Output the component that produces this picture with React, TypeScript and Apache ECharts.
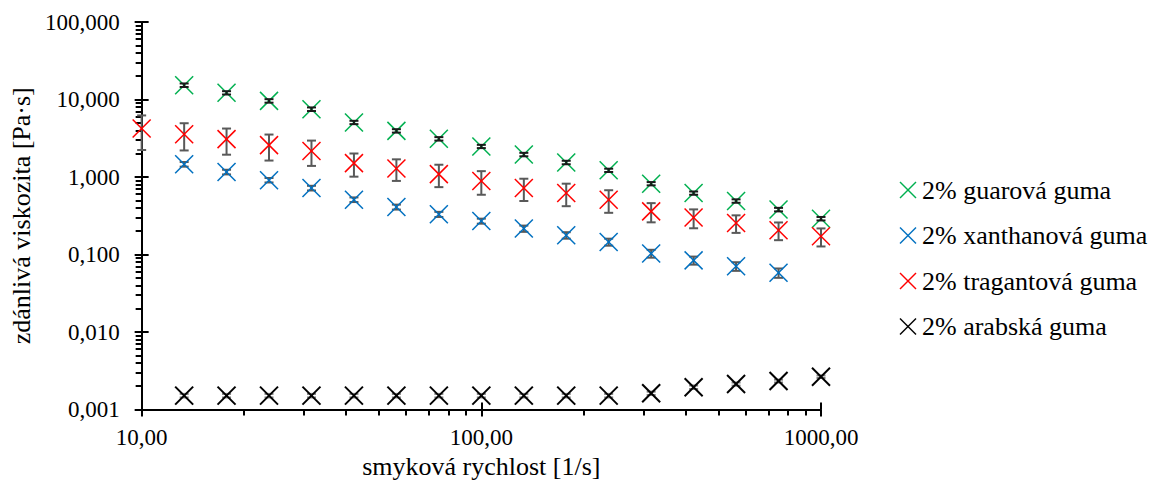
import React, { useEffect, useRef } from "react";
import * as echarts from "echarts";

// shear rates [1/s]
const shearRates = [10, 13.34, 17.78, 23.71, 31.62, 42.17, 56.23, 74.99, 100, 133.4, 177.8, 237.1, 316.2, 421.7, 562.3, 749.9, 1000];

// 2% guar gum (starts at 13.34)
const guarValues = [15.3, 12.2, 9.6, 7.5, 5.06, 3.94, 3.11, 2.48, 1.95, 1.54, 1.22, 0.82, 0.62, 0.49, 0.38, 0.29];
const guarErrors = [0.8, 0.6, 0.5, 0.4, 0.25, 0.2, 0.16, 0.12, 0.1, 0.08, 0.06, 0.04, 0.03, 0.025, 0.02, 0.015];

// 2% xanthan gum (starts at 13.34)
const xanthanValues = [1.46, 1.16, 0.91, 0.72, 0.51, 0.41, 0.33, 0.27, 0.216, 0.177, 0.145, 0.103, 0.084, 0.0705, 0.058];
const xanthanErrors = [0.1, 0.08, 0.06, 0.05, 0.035, 0.03, 0.025, 0.02, 0.02, 0.017, 0.015, 0.012, 0.01, 0.009, 0.008];

// 2% tragacanth gum (starts at 10)
const tragantValues = [4.23, 3.57, 3.08, 2.58, 2.17, 1.51, 1.29, 1.09, 0.89, 0.72, 0.62, 0.51, 0.36, 0.3, 0.255, 0.206, 0.172];
const tragantErrors = [2.0, 1.37, 1.14, 0.95, 0.78, 0.5, 0.4, 0.35, 0.3, 0.23, 0.2, 0.165, 0.1, 0.082, 0.065, 0.053, 0.045];

// 2% arabic gum (starts at 13.34)
const arabicValues = [0.00151, 0.00151, 0.00151, 0.00151, 0.00151, 0.00151, 0.00151, 0.00151, 0.00151, 0.00151, 0.00151, 0.00162, 0.00194, 0.00213, 0.00233, 0.00265];
const arabicErrors = [0.00008, 0.00008, 0.00008, 0.00008, 0.00008, 0.00008, 0.00008, 0.00008, 0.00008, 0.00008, 0.00008, 0.00008, 0.0001, 0.0001, 0.0001, 0.0001];

const seriesNames = ["2% guarová guma", "2% xanthanová guma", "2% tragantová guma", "2% arabská guma"];
const seriesColors = ["#00B050", "#0070C0", "#FF0000", "#000000"];
const errorColors = ["#1a1a1a", "#595959", "#595959", "#7f7f7f"];

// axis ranges
const xMin = 10;
const xMax = 1000;
const yMin = 0.001;
const yMax = 100;

const FONT = "'Liberation Serif', 'Times New Roman', serif";

function pointsFor(values: number[], offset: number) {
  return values.map((v, i) => [shearRates[i + offset], v]);
}
function barsFor(values: number[], errors: number[], offset: number) {
  return values.map((v, i) => [shearRates[i + offset], v - errors[i], v + errors[i]]);
}

export default function App() {
  const ref = useRef<HTMLDivElement>(null);
  useEffect(() => {
    if (!ref.current) return;
    const chart = echarts.init(ref.current, null, { renderer: "svg" });
    const groups = [
      { vals: guarValues, errs: guarErrors, off: 1 },
      { vals: xanthanValues, errs: xanthanErrors, off: 1 },
      { vals: tragantValues, errs: tragantErrors, off: 0 },
      { vals: arabicValues, errs: arabicErrors, off: 1 },
    ];
    const series: any[] = [];
    groups.forEach((g, k) => {
      const color = errorColors[k];
      series.push({
        type: "custom",
        name: "err" + k,
        xAxisIndex: 0,
        yAxisIndex: 0,
        z: k === 0 ? 4 : 2,
        data: barsFor(g.vals, g.errs, g.off),
        encode: { x: 0, y: [1, 2] },
        renderItem: (params: any, api: any) => {
          const x = api.value(0);
          const top = api.coord([x, api.value(2)]);
          const bot = api.coord([x, api.value(1)]);
          const w = 4.5;
          return {
            type: "group",
            children: [
              { type: "line", shape: { x1: top[0], y1: top[1], x2: bot[0], y2: bot[1] }, style: { stroke: color, lineWidth: 2 } },
              { type: "line", shape: { x1: top[0] - w, y1: top[1], x2: top[0] + w, y2: top[1] }, style: { stroke: color, lineWidth: 2 } },
              { type: "line", shape: { x1: bot[0] - w, y1: bot[1], x2: bot[0] + w, y2: bot[1] }, style: { stroke: color, lineWidth: 2 } },
            ],
          };
        },
      });
    });
    groups.forEach((g, k) => {
      const color = seriesColors[k];
      const lw = k === 3 ? 2 : 1.5;
      series.push({
        type: "custom",
        name: seriesNames[k],
        xAxisIndex: 0,
        yAxisIndex: 0,
        z: 3,
        data: pointsFor(g.vals, g.off),
        encode: { x: 0, y: 1 },
        renderItem: (params: any, api: any) => {
          const p = api.coord([api.value(0), api.value(1)]);
          const h = 9;
          return {
            type: "group",
            children: [
              { type: "line", shape: { x1: p[0] - h, y1: p[1] - h, x2: p[0] + h, y2: p[1] + h }, style: { stroke: color, lineWidth: lw } },
              { type: "line", shape: { x1: p[0] - h, y1: p[1] + h, x2: p[0] + h, y2: p[1] - h }, style: { stroke: color, lineWidth: lw } },
            ],
          };
        },
      });
    });

    const legendGraphic = seriesNames.map((n, k) => ({
      type: "group",
      x: 900,
      y: 182 + 45.5 * k,
      children: [
        { type: "line", shape: { x1: 0, y1: 0, x2: 16, y2: 16 }, style: { stroke: seriesColors[k], lineWidth: 1.5 } },
        { type: "line", shape: { x1: 0, y1: 16, x2: 16, y2: 0 }, style: { stroke: seriesColors[k], lineWidth: 1.5 } },
        {
          type: "text",
          x: 22,
          y: 8,
          style: { text: n, fontFamily: FONT, fontSize: 26, fill: "#000", verticalAlign: "middle" },
        },
      ],
    }));

    chart.setOption({
      animation: false,
      backgroundColor: "#fff",
      grid: { left: 140, right: 339, top: 22, bottom: 79.5 },
      xAxis: [
        {
          type: "log",
          logBase: 10,
          min: xMin,
          max: xMax,
          position: "bottom",
          name: "smyková rychlost [1/s]",
          nameLocation: "middle",
          nameGap: 42,
          nameTextStyle: { fontFamily: FONT, fontSize: 26, color: "#000" },
          axisLine: { show: true, lineStyle: { color: "#000", width: 2 } },
          axisTick: { show: true, length: 7, lineStyle: { color: "#000", width: 2 } },
          minorTick: { show: true, splitNumber: 9, length: 6, lineStyle: { color: "#000", width: 2 } },
          axisLabel: {
            fontFamily: FONT,
            fontSize: 23,
            color: "#000",
            margin: 16,
            formatter: (v: number) => v.toFixed(2).replace(".", ","),
          },
          splitLine: { show: false },
        },
        {
          type: "log",
          logBase: 10,
          min: xMin,
          max: xMax,
          position: "bottom",
          axisLine: { show: false },
          axisTick: { show: true, inside: true, length: 7, lineStyle: { color: "#000", width: 2 } },
          axisLabel: { show: false },
          splitLine: { show: false },
        },
      ],
      yAxis: [
        {
          type: "log",
          logBase: 10,
          min: yMin,
          max: yMax,
          position: "left",
          name: "zdánlivá viskozita [Pa·s]",
          nameLocation: "middle",
          nameGap: 104,
          nameTextStyle: { fontFamily: FONT, fontSize: 26, color: "#000" },
          axisLine: { show: true, lineStyle: { color: "#000", width: 2 } },
          axisTick: { show: true, length: 7, lineStyle: { color: "#000", width: 2 } },
          minorTick: { show: true, splitNumber: 9, length: 6, lineStyle: { color: "#000", width: 2 } },
          axisLabel: {
            fontFamily: FONT,
            fontSize: 23,
            color: "#000",
            margin: 22,
            formatter: (v: number) => v.toFixed(3).replace(".", ","),
          },
          splitLine: { show: false },
        },
        {
          type: "log",
          logBase: 10,
          min: yMin,
          max: yMax,
          position: "left",
          axisLine: { show: false },
          axisTick: { show: true, inside: true, length: 7, lineStyle: { color: "#000", width: 2 } },
          axisLabel: { show: false },
          splitLine: { show: false },
        },
      ],
      graphic: legendGraphic,
      series,
    });
    return () => chart.dispose();
  }, []);
  return <div ref={ref} style={{ position: "fixed", left: 0, top: 0, width: 1160, height: 489 }} />;
}
